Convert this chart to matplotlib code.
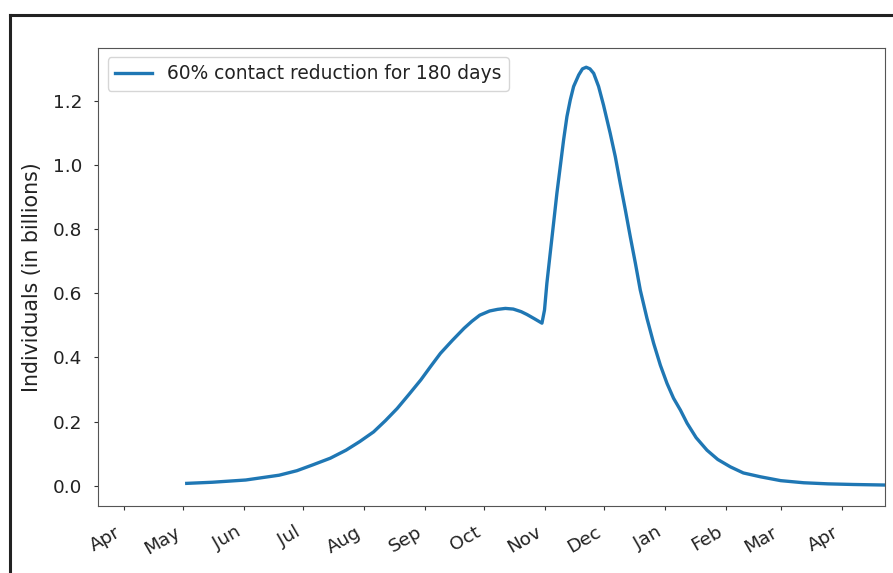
import matplotlib
matplotlib.use('Agg')
import matplotlib.pyplot as plt
import matplotlib.dates as mdates
from matplotlib.lines import Line2D
import pandas as pd

# days after 2020-04-01 (billions)
day_offsets = [32, 45, 62, 79, 88, 96, 105, 113, 120, 127, 133, 139, 145, 151,
               156, 161, 167, 173, 177, 181, 186, 190, 194, 198, 202, 205, 209,
               212.6, 213.9, 215.1, 216.8, 218.5, 220.2, 221.9, 223.6, 225.3,
               227, 228.7, 231.3, 233.2, 235.1, 237, 238.9, 241.4, 243.9, 247.3,
               249.9, 252.4, 255, 257.5, 260.1, 262.6, 266, 269.4, 272.8, 276.2,
               279.5, 283, 286.4, 291, 296.5, 302, 308.4, 315, 323.7, 334,
               345.7, 358, 371, 390]
individuals = [0.0075, 0.011, 0.018, 0.033, 0.047, 0.065, 0.086, 0.111, 0.138,
               0.168, 0.203, 0.241, 0.285, 0.330, 0.372, 0.413, 0.453, 0.491,
               0.513, 0.532, 0.545, 0.550, 0.553, 0.551, 0.543, 0.534, 0.520,
               0.507, 0.548, 0.631, 0.725, 0.818, 0.912, 0.995, 1.078, 1.151,
               1.203, 1.245, 1.281, 1.300, 1.305, 1.300, 1.286, 1.245, 1.187,
               1.099, 1.026, 0.943, 0.860, 0.777, 0.694, 0.610, 0.522, 0.444,
               0.376, 0.319, 0.273, 0.236, 0.195, 0.150, 0.111, 0.082, 0.059,
               0.040, 0.028, 0.016, 0.0094, 0.006, 0.004, 0.002]
label = '60% contact reduction for 180 days'

dates = pd.Timestamp('2020-04-01') + pd.to_timedelta(day_offsets, unit='D')

fig = plt.figure(figsize=(8.93, 5.73), dpi=100)
ax = fig.add_axes([0.110, 0.1164, 0.881, 0.8004])
ax.plot(dates, individuals, color='#1f77b4', linewidth=2.4, label=label)

ax.set_xlim(pd.Timestamp('2020-03-19'), pd.Timestamp('2021-04-23'))
ax.set_ylim(-0.064, 1.366)
ax.xaxis.set_major_locator(mdates.MonthLocator())
ax.xaxis.set_major_formatter(mdates.DateFormatter('%b'))
ax.set_yticks([0.0, 0.2, 0.4, 0.6, 0.8, 1.0, 1.2])
ax.tick_params(labelsize=13.3, length=3, color='#333333', labelcolor='#222222')
ax.tick_params(axis='y', pad=8.5)
ax.tick_params(axis='x', pad=9)
for t in ax.get_xticklabels():
    t.set_rotation(30)
    t.set_ha('right')
ax.set_ylabel('Individuals (in billions)', fontsize=14.8, color='#222222', labelpad=8)
for s in ax.spines.values():
    s.set_color('#555555')
ax.legend(loc='upper left', fontsize=13.4, labelcolor='#222222')

# frame of the screenshot
fig.add_artist(Line2D([0.0112, 0.0112], [0, 0.974], transform=fig.transFigure,
                      color='#222222', linewidth=2.2))
fig.add_artist(Line2D([0.0112, 1.0], [0.974, 0.974], transform=fig.transFigure,
                      color='#222222', linewidth=2.2))

fig.savefig('out.png', dpi=100)
plt.close(fig)
